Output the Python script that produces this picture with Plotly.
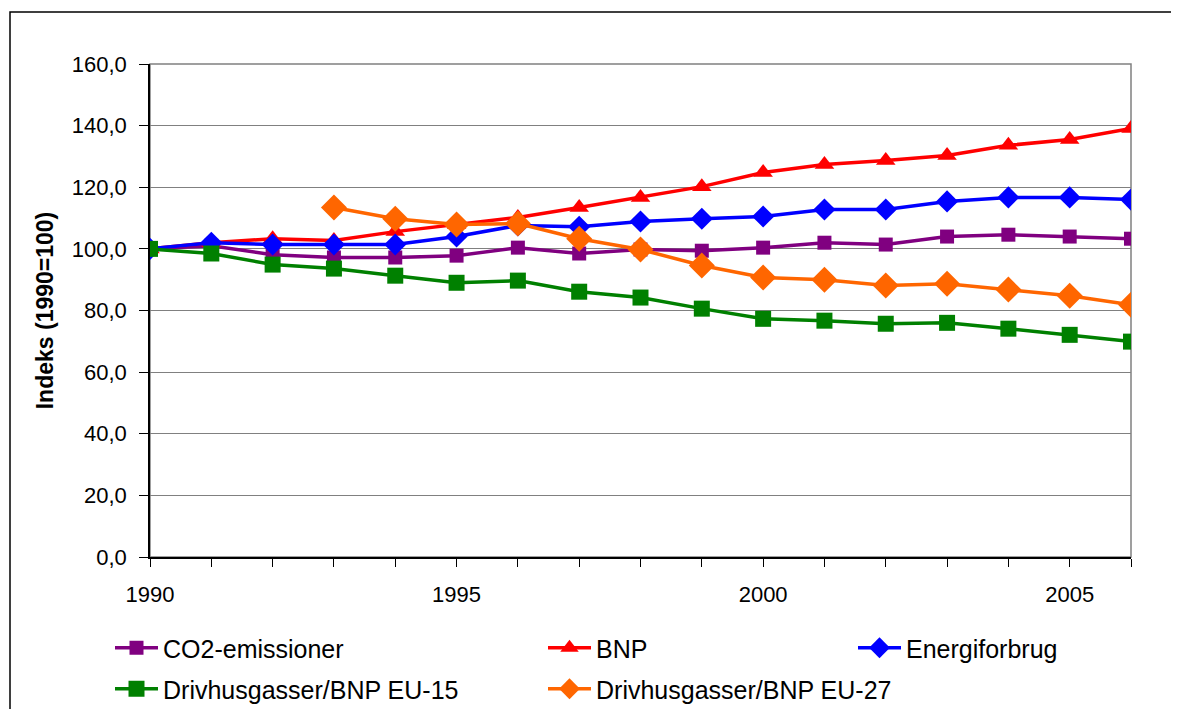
import plotly.graph_objects as go

years = list(range(1990, 2007))
co2 = [100.0, 101.0, 98.1, 97.2, 97.2, 97.8, 100.4, 98.5, 99.8, 99.4, 100.4, 102.0, 101.4, 104.0, 104.6, 104.0, 103.3]
bnp = [100.0, 102.0, 103.3, 102.7, 105.6, 107.9, 110.2, 113.4, 116.7, 120.2, 124.8, 127.4, 128.7, 130.3, 133.6, 135.5, 139.1]
energi = [100.0, 102.0, 101.4, 101.4, 101.4, 104.0, 107.6, 107.2, 108.9, 109.8, 110.5, 112.8, 112.8, 115.4, 116.7, 116.7, 116.0]
eu15 = [100.0, 98.5, 94.9, 93.6, 91.3, 89.0, 89.7, 86.1, 84.2, 80.6, 77.3, 76.7, 75.7, 76.0, 74.1, 72.1, 69.9]
years27 = list(range(1993, 2007))
eu27 = [113.4, 109.8, 107.9, 108.2, 103.3, 99.8, 94.6, 90.7, 90.0, 88.1, 88.7, 86.8, 84.8, 81.9]
xtick_vals = [1990, 1995, 2000, 2005]
xtick_text = ["1990", "1995", "2000", "2005"]

OFF = 8  # page body margin
W, H = 1179 - 2 * OFF, 760
# plot area in screen pixels
L, R, T, B = 150, 1131, 64, 557
pw, ph = R - L, B - T

def px(x):
    return (x - L) / pw

def py(y):
    return (B - y) / ph

fig = go.Figure()
series = [
    ("CO2-emissioner", years, co2, "#800080", "square", 14, "legend"),
    ("BNP", years, bnp, "#FF0000", "triangle-up", 17, "legend"),
    ("Energiforbrug", years, energi, "#0000FF", "diamond", 17, "legend3"),
    ("Drivhusgasser/BNP EU-15", years, eu15, "#008000", "square", 16, "legend2"),
    ("Drivhusgasser/BNP EU-27", years27, eu27, "#FF6600", "diamond", 20, "legend2"),
]
for name, xs, ys, col, sym, sz, lg in series:
    fig.add_trace(go.Scatter(
        x=xs, y=ys, name=name, mode="lines+markers",
        line=dict(color=col, width=3.5),
        marker=dict(symbol=sym, size=sz, color=col, line=dict(width=0)),
        legend=lg,
    ))

fam = "Liberation Sans, Arial, sans-serif"
font = dict(family=fam, size=22, color="black")
legfont = dict(family=fam, size=25, color="black")

def leg(xs, ys, ew=375):
    d = dict(orientation="h", x=px(xs), y=py(ys), yanchor="middle", xanchor="left",
             font=legfont, bgcolor="rgba(0,0,0,0)", itemwidth=43, borderwidth=0)
    if ew:
        d.update(entrywidth=ew, entrywidthmode="pixels")
    return d

fig.update_layout(
    width=W, height=H,
    margin=dict(l=L - OFF, r=W - (R - OFF), t=T - OFF, b=H - (B - OFF)),
    paper_bgcolor="white", plot_bgcolor="white",
    separators=",.",
    font=font,
    showlegend=True,
    legend=leg(110, 648),
    legend2=leg(110, 689),
    legend3=leg(853, 648, None),
    xaxis=dict(range=[1990, 2006], tickmode="array", tickvals=xtick_vals, ticktext=xtick_text,
               ticks="outside", ticklen=8, tickcolor="black", showgrid=False,
               showline=True, linecolor="black", linewidth=1.5, zeroline=False,
               minor=dict(dtick=1, tick0=1990, ticks="outside", ticklen=8, tickcolor="black", showgrid=False),
               tickfont=font, ticklabelstandoff=9, fixedrange=True),
    yaxis=dict(range=[0, 160], dtick=20, tick0=0, tickformat=".1f",
               ticks="outside", ticklen=9, tickcolor="black",
               showgrid=True, gridcolor="#808080", gridwidth=1,
               showline=True, linecolor="black", linewidth=1.5, zeroline=False,
               tickfont=font, ticklabelstandoff=8, fixedrange=True,
               title=dict(text="<b>Indeks (1990=100)</b>", font=dict(family=fam, size=23), standoff=12)),
    shapes=[
        dict(type="rect", xref="paper", yref="paper", x0=0, x1=1, y0=0, y1=1,
             line=dict(color="#808080", width=1.5), fillcolor="rgba(0,0,0,0)", layer="below"),
        dict(type="rect", xref="paper", yref="paper", x0=px(10), x1=px(1200), y0=py(790), y1=py(12),
             line=dict(color="black", width=1.5), fillcolor="rgba(0,0,0,0)", layer="below"),
    ],
)

fig.write_html("out.html")
